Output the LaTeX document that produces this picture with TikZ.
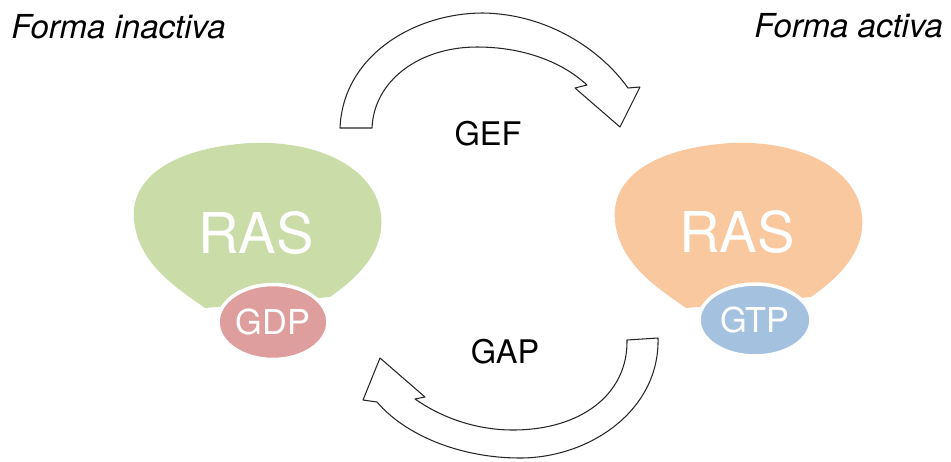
\documentclass[tikz,border=0pt]{standalone}
\usepackage{fontspec}
\setmainfont{TeX Gyre Heros}
\usetikzlibrary{shapes.geometric}
\definecolor{rasgreen}{RGB}{202,220,168}
\definecolor{rasorange}{RGB}{249,200,158}
\definecolor{gdppink}{RGB}{222,158,158}
\definecolor{gtpblue}{RGB}{165,193,224}
\newcommand{\rasblob}[1]{\fill[#1] (205,308) .. controls (180,290) and (138,265) .. (134,220)
	.. controls (130,178) and (172,148) .. (250,143) .. controls (322,140) and (376,170) .. (381,215)
	.. controls (385,250) and (360,276) .. (330,297) -- cycle;}
\begin{document}
\begin{tikzpicture}[
	x=0.02cm,y=-0.02cm,
	label/.style={inner sep=0pt,font=\fontsize{18.5}{20}\selectfont},
	form/.style={label,anchor=base west,font=\fontsize{18.8}{20}\selectfont\itshape},
	ras/.style={inner sep=0pt,anchor=base,text=white,font=\fontsize{32}{34}\selectfont},
	nucleotide/.style={ellipse,draw=white,line width=2pt,inner sep=0pt,text=white,font=\fontsize{19.5}{21}\selectfont},
	blockarrow/.style={draw=black!85,fill=white,line width=0.6pt,line join=round}
	]
		\useasboundingbox (0,0) rectangle (951,461);
		
		\path (11,38) node[form] (inactive) {Forma inactiva};
		\path (754,37) node[form] (active) {Forma activa};
		
		\rasblob{rasgreen}
		\rasblob{rasorange,xshift=9.62cm}
		\path (256,253) node[ras] (rasoff) {RAS};
		\path (737,252) node[ras] (rason) {RAS};
		\path (273,322) node[nucleotide,fill=gdppink,minimum width=2.2cm,minimum height=1.5cm] (gdp) {GDP};
		\path (755,320) node[nucleotide,fill=gtpblue,minimum width=2.24cm,minimum height=1.44cm] (gtp) {GTP};
		
		\draw[blockarrow] (340,128) .. controls (343,55) and (415,13) .. (483,13)
			.. controls (548,14) and (601,50) .. (628,88) -- (640,87) -- (620,127) -- (575,88) -- (587,85)
			.. controls (560,60) and (520,47) .. (477,47) .. controls (420,47) and (374,80) .. (372,128) -- cycle;
		\path (488,145) node[label,anchor=base] (gef) {GEF};
		
		\draw[blockarrow] (658,338) .. controls (660,410) and (590,458) .. (520,458)
			.. controls (460,458) and (405,435) .. (377,402) -- (363,400) -- (380,358) -- (425,397) -- (415,399)
			.. controls (445,420) and (480,430) .. (513,430) .. controls (580,430) and (628,395) .. (627,340) -- cycle;
		\path (505,363) node[label,anchor=base] (gap) {GAP};
		
	\end{tikzpicture}
\end{document}
